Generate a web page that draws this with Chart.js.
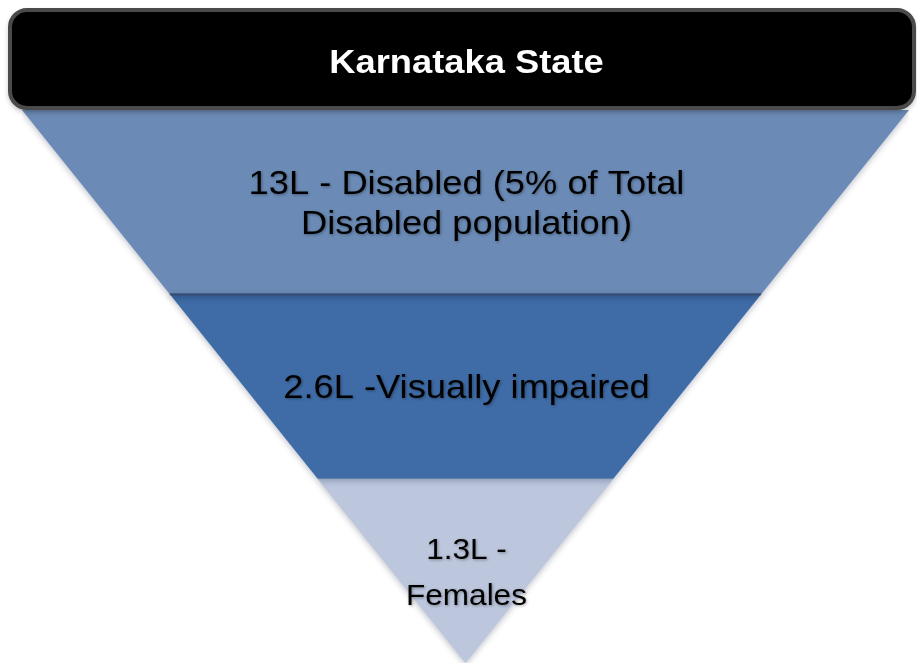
<!DOCTYPE html>
<html>
<head>
<meta charset="utf-8">
<script src="https://cdn.jsdelivr.net/npm/chart.js@4"></script>
<style>
  html, body { margin: 0; padding: 0; background: #ffffff; }
  #wrap { width: 917px; height: 666px; }
</style>
</head>
<body>
<div id="wrap"><canvas id="c" width="917" height="666"></canvas></div>
<script>
// ---- data ----
const headerTitle = "Karnataka State";
const stageLabels = [
  ["13L - Disabled (5% of Total", "Disabled population)"],
  ["2.6L -Visually impaired"],
  ["1.3L -", "Females"]
];
const stageValues = [13, 2.6, 1.3];          // lakh persons
const stageTopLevels = [3, 2, 1];            // funnel level at top of each stage
const stageBottomLevels = [2, 1, 0];         // funnel level at bottom of each stage
const maxLevel = 3;
const separatorLevels = [2];

// ---- styles ----
const stageColors = ['#6b8bb6', '#3f6ca7', '#bcc6dc'];
const stageFonts = [
  { size: 33, lh: 40, sx: 1.1 },
  { size: 33, lh: 40, sx: 1.1 },
  { size: 30, lh: 46, sx: 1.05 }
];
const FONT = '"Liberation Sans", Arial, Helvetica, sans-serif';

function halfWidth(level) { return level / maxLevel; }

const datasets = [];
stageLabels.forEach((lab, i) => {
  const t = stageTopLevels[i], b = stageBottomLevels[i];
  datasets.push({
    label: lab.join(' '),
    data: [
      { x: -halfWidth(t), y: t },
      { x: halfWidth(t), y: t },
      { x: halfWidth(b), y: b },
      { x: -halfWidth(b), y: b },
      { x: -halfWidth(t), y: t }
    ],
    showLine: true,
    fill: 'shape',
    backgroundColor: stageColors[i],
    borderWidth: 0,
    borderColor: 'rgba(0,0,0,0)',
    pointRadius: 0,
    tension: 0,
    clip: false
  });
});
separatorLevels.forEach(l => {
  datasets.unshift({
    label: 'sep',
    data: [{ x: -halfWidth(l), y: l }, { x: halfWidth(l), y: l }],
    showLine: true,
    fill: false,
    borderColor: 'rgba(50,70,105,0.85)',
    borderWidth: 2,
    pointRadius: 0,
    clip: false
  });
});

const funnelPlugin = {
  id: 'funnelDeco',
  beforeDraw(chart) {
    const ctx = chart.ctx;
    ctx.save();
    ctx.fillStyle = '#ffffff';
    ctx.fillRect(0, 0, chart.width, chart.height);
    ctx.restore();
    ctx.save();
    ctx.shadowColor = 'rgba(20,30,60,0.28)';
    ctx.shadowBlur = 6;
    ctx.shadowOffsetY = 2;
  },
  afterDatasetsDraw(chart) {
    const ctx = chart.ctx;
    ctx.restore();
    const xs = chart.scales.x, ys = chart.scales.y;
    const cx = xs.getPixelForValue(0);
    stageLabels.forEach((lines, i) => {
      const f = stageFonts[i];
      const yc = (ys.getPixelForValue(stageTopLevels[i]) + ys.getPixelForValue(stageBottomLevels[i])) / 2;
      const cap = f.size * 0.716;
      const b1 = yc + (cap - (lines.length - 1) * f.lh) / 2;
      lines.forEach((ln, k) => {
        ctx.save();
        ctx.translate(cx + 1, b1 + k * f.lh);
        ctx.scale(f.sx, 1);
        ctx.font = f.size + 'px ' + FONT;
        ctx.textAlign = 'center';
        ctx.textBaseline = 'alphabetic';
        ctx.shadowColor = 'rgba(0,0,0,0.35)';
        ctx.shadowBlur = 3;
        ctx.shadowOffsetX = 1;
        ctx.shadowOffsetY = 1;
        ctx.fillStyle = '#000000';
        ctx.fillText(ln, 0, 0);
        ctx.restore();
      });
    });
  },
  afterDraw(chart) {
    const ctx = chart.ctx;
    // header box
    ctx.save();
    ctx.shadowColor = 'rgba(0,0,0,0.4)';
    ctx.shadowBlur = 6;
    ctx.shadowOffsetY = 3;
    ctx.beginPath();
    ctx.roundRect(10, 10, 904, 98, 17);
    ctx.fillStyle = '#000000';
    ctx.fill();
    ctx.shadowColor = 'rgba(0,0,0,0)';
    ctx.lineWidth = 4;
    ctx.strokeStyle = '#4a4a4a';
    ctx.stroke();
    ctx.restore();
    ctx.save();
    ctx.translate(chart.scales.x.getPixelForValue(0) + 1, 73);
    ctx.scale(1.1, 1);
    ctx.font = 'bold 33px ' + FONT;
    ctx.textAlign = 'center';
    ctx.textBaseline = 'alphabetic';
    ctx.fillStyle = '#ffffff';
    ctx.fillText(headerTitle, 0, 0);
    ctx.restore();
  }
};

new Chart(document.getElementById('c'), {
  type: 'scatter',
  data: { datasets },
  options: {
    responsive: false,
    animation: false,
    events: [],
    layout: { padding: { top: 110, bottom: 3, left: 22, right: 8 } },
    scales: {
      x: { type: 'linear', min: -1, max: 1, display: false },
      y: { type: 'linear', min: 0, max: maxLevel, display: false }
    },
    plugins: {
      legend: { display: false },
      tooltip: { enabled: false },
      title: { display: false }
    }
  },
  plugins: [funnelPlugin]
});
</script>
</body>
</html>
